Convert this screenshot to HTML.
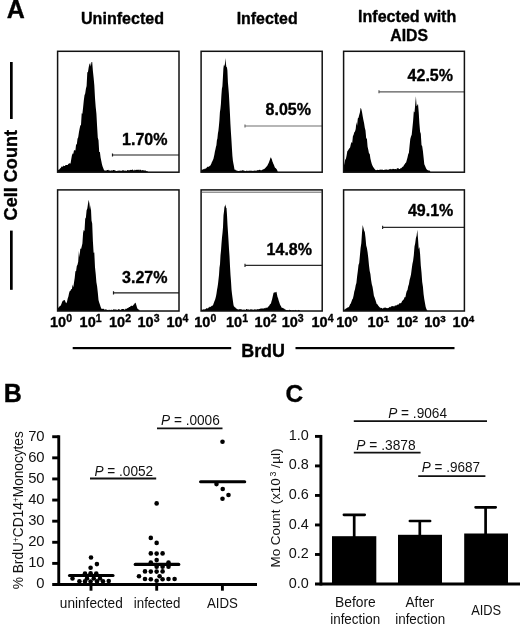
<!DOCTYPE html>
<html lang="en"><head><meta charset="utf-8"><title>Figure</title>
<style>
html,body{margin:0;padding:0;background:#fff;}
body{width:520px;height:624px;overflow:hidden;font-family:"Liberation Sans",sans-serif;}
svg{display:block;filter:blur(0.3px);}
</style></head><body>
<svg width="520" height="624" viewBox="0 0 520 624">
<rect width="520" height="624" fill="#fff"/>
<g font-family="'Liberation Sans', sans-serif" font-weight="bold" fill="#000" stroke="#000" stroke-width="0.35" stroke-linejoin="round">
<text x="6.8" y="17.8" font-size="25">A</text>
<text x="81" y="24" font-size="16" textLength="83" lengthAdjust="spacingAndGlyphs">Uninfected</text>
<text x="236.7" y="24" font-size="16" textLength="61" lengthAdjust="spacingAndGlyphs">Infected</text>
<text x="358" y="22.4" font-size="16" textLength="98.3" lengthAdjust="spacingAndGlyphs">Infected with</text>
<text x="390.3" y="40.7" font-size="16" textLength="37.7" lengthAdjust="spacingAndGlyphs">AIDS</text>
<text transform="translate(17.2,220.4) rotate(-90)" font-size="18" textLength="90.4" lengthAdjust="spacingAndGlyphs">Cell Count</text>
<text x="241.2" y="357" font-size="18" textLength="43.8" lengthAdjust="spacingAndGlyphs">BrdU</text>
<text x="122.1" y="144.6" font-size="16" textLength="45.4" lengthAdjust="spacingAndGlyphs">1.70%</text>
<text x="265.6" y="114.6" font-size="16" textLength="45.4" lengthAdjust="spacingAndGlyphs">8.05%</text>
<text x="407.6" y="80.6" font-size="16" textLength="45.4" lengthAdjust="spacingAndGlyphs">42.5%</text>
<text x="122.1" y="283.1" font-size="16" textLength="45.4" lengthAdjust="spacingAndGlyphs">3.27%</text>
<text x="266.6" y="254.6" font-size="16" textLength="45.4" lengthAdjust="spacingAndGlyphs">14.8%</text>
<text x="407.90000000000003" y="216.4" font-size="16" textLength="45.4" lengthAdjust="spacingAndGlyphs">49.1%</text>
<text x="50.0" y="326.6" font-size="14.5">10<tspan dy="-4.6" font-size="10.5">0</tspan></text><text x="79.6" y="326.6" font-size="14.5">10<tspan dy="-4.6" font-size="10.5">1</tspan></text><text x="109.0" y="326.6" font-size="14.5">10<tspan dy="-4.6" font-size="10.5">2</tspan></text><text x="137.5" y="326.6" font-size="14.5">10<tspan dy="-4.6" font-size="10.5">3</tspan></text><text x="166.4" y="326.6" font-size="14.5">10<tspan dy="-4.6" font-size="10.5">4</tspan></text>
<text x="194.3" y="326.6" font-size="14.5">10<tspan dy="-4.6" font-size="10.5">0</tspan></text><text x="226.0" y="326.6" font-size="14.5">10<tspan dy="-4.6" font-size="10.5">1</tspan></text><text x="254.6" y="326.6" font-size="14.5">10<tspan dy="-4.6" font-size="10.5">2</tspan></text><text x="281.7" y="326.6" font-size="14.5">10<tspan dy="-4.6" font-size="10.5">3</tspan></text><text x="311.5" y="326.6" font-size="14.5">10<tspan dy="-4.6" font-size="10.5">4</tspan></text>
<text x="336.2" y="326.6" font-size="14.5">10<tspan dy="-4.6" font-size="9.8">0</tspan></text><text x="367.6" y="326.6" font-size="14.5">10<tspan dy="-4.6" font-size="9.8">1</tspan></text><text x="396.4" y="326.6" font-size="14.5">10<tspan dy="-4.6" font-size="9.8">2</tspan></text><text x="424.2" y="326.6" font-size="14.5">10<tspan dy="-4.6" font-size="9.8">3</tspan></text><text x="452.6" y="326.6" font-size="14.5">10<tspan dy="-4.6" font-size="9.8">4</tspan></text>
</g>
<g fill="#000">
<rect x="10" y="62" width="2.7" height="57"/>
<rect x="10" y="230.6" width="2.7" height="59.2"/>
<rect x="72.7" y="347" width="158.5" height="2.2"/>
<rect x="295.5" y="347" width="159" height="2.2"/>
</g>
<path d="M57.9,172.0 L57.9,169.9 L58.6,169.7 L59.3,169.5 L60.0,168.5 L60.7,168.0 L61.4,166.8 L62.1,166.3 L62.8,166.9 L63.5,165.6 L64.2,166.1 L64.9,166.0 L65.6,165.1 L66.3,165.1 L67.0,164.9 L67.7,164.9 L68.4,163.7 L69.1,163.8 L69.8,163.1 L70.5,163.8 L71.2,159.6 L71.9,155.6 L72.6,153.4 L73.3,153.7 L74.0,150.2 L74.7,150.2 L75.4,150.4 L76.1,144.2 L76.8,144.5 L77.5,138.8 L78.2,137.2 L78.9,132.6 L79.6,128.8 L80.3,125.4 L81.0,125.0 L81.7,113.2 L82.4,113.7 L83.1,107.4 L83.8,100.5 L84.5,95.3 L85.2,93.6 L85.9,88.7 L86.6,86.1 L87.3,72.4 L88.0,71.8 L88.7,67.3 L89.4,64.2 L90.1,63.0 L90.8,66.4 L91.5,61.9 L92.2,62.0 L92.9,71.0 L93.6,77.4 L94.3,85.1 L95.0,98.1 L95.7,106.9 L96.4,113.6 L97.1,126.2 L97.8,137.8 L98.5,140.2 L99.2,151.9 L99.9,151.9 L100.6,157.6 L101.3,160.9 L102.0,164.6 L102.7,166.8 L103.4,168.5 L104.1,170.3 L104.8,170.6 L105.5,170.6 L106.2,170.8 L106.9,170.0 L107.6,170.1 L108.3,169.8 L109.0,170.7 L109.7,170.3 L110.4,170.9 L111.1,170.0 L111.8,170.7 L112.5,170.6 L113.2,170.1 L113.9,170.0 L114.6,170.2 L115.3,170.6 L116.0,171.0 L116.7,171.0 L117.4,170.9 L118.1,170.3 L118.8,171.1 L119.5,170.5 L120.2,170.6 L120.9,170.9 L121.6,170.7 L122.3,170.4 L123.0,170.1 L123.7,170.4 L124.4,170.7 L125.1,170.4 L125.8,170.8 L126.5,170.9 L127.2,170.0 L127.9,170.2 L128.6,170.2 L129.3,170.5 L130.0,169.7 L130.7,169.9 L131.4,170.0 L132.1,169.7 L132.8,169.6 L133.5,170.5 L134.2,170.5 L134.9,169.6 L135.6,170.3 L136.3,169.9 L137.0,169.5 L137.7,170.1 L138.4,169.6 L139.1,170.4 L139.8,169.5 L140.5,169.8 L141.2,170.3 L141.9,170.4 L142.6,170.0 L143.3,170.3 L144.0,170.5 L144.7,170.5 L145.4,170.3 L146.1,171.2 L146.8,171.0 L147.5,171.2 L148.0,172.0 Z" fill="#000"/>
<path d="M200.9,172.0 L200.9,170.7 L201.4,169.7 L201.9,169.7 L202.4,170.0 L202.9,169.1 L203.4,169.1 L203.9,169.5 L204.4,169.0 L204.9,168.6 L205.4,168.9 L205.9,168.1 L206.4,168.2 L206.9,167.3 L207.4,166.9 L207.9,166.4 L208.4,167.0 L208.9,166.5 L209.4,166.3 L209.9,165.8 L210.4,165.5 L210.9,164.5 L211.4,163.5 L211.9,162.1 L212.4,161.2 L212.9,160.1 L213.4,159.1 L213.9,156.7 L214.4,154.4 L214.9,151.6 L215.4,149.5 L215.9,147.1 L216.4,145.2 L216.9,140.3 L217.4,138.5 L217.9,133.5 L218.4,130.7 L218.9,126.1 L219.4,120.5 L219.9,112.3 L220.4,109.0 L220.9,104.0 L221.4,95.2 L221.9,88.8 L222.4,86.3 L222.9,77.4 L223.4,68.3 L223.9,64.9 L224.4,66.0 L224.9,64.1 L225.4,58.0 L225.9,63.6 L226.4,67.2 L226.9,67.0 L227.4,70.5 L227.9,82.2 L228.4,88.0 L228.9,94.2 L229.4,103.4 L229.9,112.8 L230.4,123.4 L230.9,132.1 L231.4,139.4 L231.9,148.0 L232.4,155.7 L232.9,160.7 L233.4,163.4 L233.9,166.1 L234.4,169.1 L234.9,169.9 L235.4,169.4 L235.9,170.6 L236.4,170.6 L236.9,170.5 L237.4,170.8 L237.9,170.9 L238.4,171.1 L238.9,171.1 L239.4,170.8 L239.9,171.1 L240.4,170.5 L240.9,170.7 L241.4,170.8 L241.9,170.4 L242.4,170.3 L242.9,170.2 L243.4,170.6 L243.9,170.4 L244.4,170.8 L244.9,171.1 L245.4,171.0 L245.9,171.2 L246.4,170.7 L246.9,170.5 L247.4,171.2 L247.9,170.6 L248.4,171.3 L248.9,170.5 L249.4,170.8 L249.9,170.8 L250.4,170.4 L250.9,171.0 L251.4,171.0 L251.9,170.2 L252.4,171.1 L252.9,171.0 L253.4,171.1 L253.9,170.4 L254.4,170.8 L254.9,170.6 L255.4,170.5 L255.9,170.9 L256.4,170.7 L256.9,170.2 L257.4,170.1 L257.9,170.4 L258.4,169.9 L258.9,170.3 L259.4,169.8 L259.9,169.8 L260.4,170.1 L260.9,170.5 L261.4,170.0 L261.9,170.5 L262.4,169.2 L262.9,169.9 L263.4,168.9 L263.9,169.2 L264.4,168.8 L264.9,168.5 L265.4,167.7 L265.9,167.4 L266.4,166.6 L266.9,166.6 L267.4,165.4 L267.9,164.4 L268.4,163.5 L268.9,162.5 L269.4,160.9 L269.9,159.7 L270.4,158.1 L270.9,157.2 L271.4,158.5 L271.9,159.4 L272.4,161.4 L272.9,162.5 L273.4,164.0 L273.9,164.8 L274.4,166.2 L274.9,167.5 L275.4,167.9 L275.9,168.2 L276.4,168.9 L276.9,169.5 L277.4,170.7 L277.8,172.0 Z" fill="#000"/>
<path d="M343.8,172.0 L343.8,166.1 L344.5,163.2 L345.2,159.7 L345.9,158.7 L346.6,155.4 L347.3,151.3 L348.0,150.4 L348.7,149.2 L349.4,148.3 L350.1,147.4 L350.8,144.3 L351.5,142.0 L352.2,143.0 L352.9,136.3 L353.6,134.7 L354.3,132.2 L355.0,131.6 L355.7,128.9 L356.4,122.0 L357.1,125.8 L357.8,118.6 L358.5,117.8 L359.2,115.0 L359.9,112.5 L360.6,107.7 L361.3,109.1 L362.0,112.1 L362.7,116.3 L363.4,119.9 L364.1,123.2 L364.8,127.8 L365.5,130.6 L366.2,138.5 L366.9,138.5 L367.6,146.7 L368.3,149.7 L369.0,153.6 L369.7,153.8 L370.4,158.4 L371.1,161.5 L371.8,164.1 L372.5,165.7 L373.2,167.1 L373.9,167.9 L374.6,169.0 L375.3,169.8 L376.0,170.2 L376.7,169.9 L377.4,169.8 L378.1,170.0 L378.8,170.1 L379.5,169.8 L380.2,169.7 L380.9,169.6 L381.6,169.8 L382.3,169.5 L383.0,170.1 L383.7,169.9 L384.4,169.8 L385.1,169.7 L385.8,169.6 L386.5,169.4 L387.2,169.7 L387.9,169.7 L388.6,169.8 L389.3,168.9 L390.0,169.6 L390.7,168.8 L391.4,169.6 L392.1,168.8 L392.8,169.3 L393.5,168.7 L394.2,169.2 L394.9,169.1 L395.6,169.0 L396.3,169.4 L397.0,168.2 L397.7,168.3 L398.4,168.3 L399.1,168.9 L399.8,169.1 L400.5,168.2 L401.2,168.3 L401.9,167.5 L402.6,166.7 L403.3,166.5 L404.0,165.0 L404.7,164.3 L405.4,163.0 L406.1,162.6 L406.8,160.0 L407.5,157.5 L408.2,154.3 L408.9,152.8 L409.6,145.6 L410.3,139.1 L411.0,136.5 L411.7,134.7 L412.4,127.9 L413.1,120.9 L413.8,111.3 L414.5,112.4 L415.2,104.8 L415.9,96.2 L416.6,106.2 L417.3,105.3 L418.0,103.7 L418.7,111.9 L419.4,123.6 L420.1,131.8 L420.8,133.7 L421.5,144.9 L422.2,146.3 L422.9,150.9 L423.6,157.6 L424.3,164.2 L425.0,165.8 L425.7,167.4 L426.4,168.9 L427.1,169.8 L427.8,170.2 L428.5,170.6 L429.2,170.4 L429.9,170.7 L430.4,172.0 Z" fill="#000"/>
<path d="M57.9,311.0 L57.9,308.3 L58.6,307.6 L59.3,306.5 L60.0,306.2 L60.7,305.5 L61.4,304.0 L62.1,302.0 L62.8,300.8 L63.5,300.4 L64.2,300.0 L64.9,300.3 L65.6,302.2 L66.3,303.3 L67.0,301.8 L67.7,298.4 L68.4,296.5 L69.1,293.0 L69.8,291.1 L70.5,290.8 L71.2,289.1 L71.9,289.3 L72.6,284.4 L73.3,287.2 L74.0,282.6 L74.7,278.0 L75.4,271.2 L76.1,271.0 L76.8,266.1 L77.5,264.8 L78.2,261.8 L78.9,250.9 L79.6,257.2 L80.3,248.3 L81.0,249.3 L81.7,246.5 L82.4,243.6 L83.1,232.7 L83.8,229.8 L84.5,231.3 L85.2,218.8 L85.9,217.5 L86.6,210.2 L87.3,208.5 L88.0,203.7 L88.7,199.7 L89.4,203.4 L90.1,209.9 L90.8,205.1 L91.5,220.4 L92.2,223.4 L92.9,241.2 L93.6,252.7 L94.3,252.5 L95.0,267.2 L95.7,273.8 L96.4,282.3 L97.1,286.2 L97.8,292.6 L98.5,299.9 L99.2,302.5 L99.9,304.4 L100.6,306.7 L101.3,308.5 L102.0,308.9 L102.7,308.7 L103.4,308.7 L104.1,309.1 L104.8,310.0 L105.5,309.3 L106.2,309.4 L106.9,309.7 L107.6,310.0 L108.3,310.2 L109.0,309.5 L109.7,310.1 L110.4,310.2 L111.1,309.6 L111.8,309.9 L112.5,310.2 L113.2,309.3 L113.9,309.5 L114.6,309.4 L115.3,309.3 L116.0,310.1 L116.7,309.5 L117.4,309.9 L118.1,309.5 L118.8,309.1 L119.5,309.6 L120.2,309.8 L120.9,309.9 L121.6,309.0 L122.3,309.0 L123.0,309.0 L123.7,309.0 L124.4,309.7 L125.1,309.4 L125.8,308.6 L126.5,308.9 L127.2,308.0 L127.9,308.2 L128.6,307.5 L129.3,306.9 L130.0,306.9 L130.7,305.9 L131.4,305.7 L132.1,305.8 L132.8,305.9 L133.5,304.7 L134.2,304.3 L134.9,302.9 L135.6,302.8 L136.3,304.9 L137.0,307.6 L137.7,308.9 L138.4,309.5 L139.1,309.5 L139.6,311.0 Z" fill="#000"/>
<path d="M201.0,311.0 L201.0,309.8 L201.5,309.5 L202.0,309.3 L202.5,310.1 L203.0,309.4 L203.5,309.6 L204.0,308.9 L204.5,309.4 L205.0,309.4 L205.5,309.0 L206.0,308.8 L206.5,308.2 L207.0,308.1 L207.5,308.4 L208.0,308.4 L208.5,307.6 L209.0,307.6 L209.5,307.1 L210.0,306.6 L210.5,307.0 L211.0,306.7 L211.5,305.8 L212.0,306.1 L212.5,305.6 L213.0,305.3 L213.5,303.7 L214.0,302.6 L214.5,301.1 L215.0,300.1 L215.5,298.2 L216.0,296.3 L216.5,293.4 L217.0,289.9 L217.5,287.3 L218.0,284.1 L218.5,279.4 L219.0,275.1 L219.5,267.4 L220.0,264.3 L220.5,255.2 L221.0,250.6 L221.5,243.4 L222.0,237.5 L222.5,233.0 L223.0,227.3 L223.5,215.3 L224.0,211.5 L224.5,206.5 L225.0,206.3 L225.5,204.2 L226.0,207.8 L226.5,208.1 L227.0,215.1 L227.5,225.1 L228.0,232.4 L228.5,240.6 L229.0,249.1 L229.5,256.0 L230.0,266.3 L230.5,275.0 L231.0,281.2 L231.5,289.4 L232.0,294.0 L232.5,297.7 L233.0,301.4 L233.5,304.9 L234.0,306.5 L234.5,306.7 L235.0,307.6 L235.5,307.4 L236.0,308.4 L236.5,308.4 L237.0,308.9 L237.5,308.9 L238.0,309.7 L238.5,309.4 L239.0,309.1 L239.5,309.3 L240.0,309.2 L240.5,309.1 L241.0,309.4 L241.5,309.2 L242.0,309.4 L242.5,309.8 L243.0,309.7 L243.5,309.5 L244.0,309.7 L244.5,309.5 L245.0,309.8 L245.5,309.9 L246.0,309.3 L246.5,308.9 L247.0,309.0 L247.5,309.8 L248.0,308.9 L248.5,309.5 L249.0,309.8 L249.5,309.8 L250.0,309.5 L250.5,309.6 L251.0,308.9 L251.5,309.6 L252.0,309.5 L252.5,309.4 L253.0,309.8 L253.5,309.6 L254.0,309.9 L254.5,308.9 L255.0,309.6 L255.5,309.6 L256.0,309.2 L256.5,309.8 L257.0,309.3 L257.5,309.3 L258.0,309.1 L258.5,309.6 L259.0,308.8 L259.5,308.9 L260.0,308.9 L260.5,308.6 L261.0,308.5 L261.5,308.5 L262.0,308.6 L262.5,308.4 L263.0,308.6 L263.5,308.7 L264.0,308.1 L264.5,308.0 L265.0,308.8 L265.5,307.7 L266.0,307.8 L266.5,307.6 L267.0,308.2 L267.5,307.4 L268.0,306.7 L268.5,306.4 L269.0,306.1 L269.5,305.2 L270.0,304.3 L270.5,304.0 L271.0,303.3 L271.5,301.3 L272.0,299.7 L272.5,297.6 L273.0,295.2 L273.5,293.0 L274.0,292.5 L274.5,292.5 L275.0,292.2 L275.5,292.5 L276.0,291.7 L276.5,292.0 L277.0,294.6 L277.5,296.9 L278.0,298.1 L278.5,300.0 L279.0,301.6 L279.5,303.1 L280.0,304.6 L280.5,305.4 L281.0,306.2 L281.5,307.6 L282.0,307.8 L282.5,308.0 L283.0,307.8 L283.5,308.5 L284.0,308.6 L284.5,309.1 L285.0,309.6 L285.5,309.6 L286.0,310.0 L286.5,310.1 L287.0,310.4 L287.5,310.1 L288.0,310.3 L288.5,310.3 L289.0,310.6 L289.5,309.6 L290.0,310.1 L290.5,309.9 L291.0,309.9 L291.5,310.7 L292.0,310.3 L292.5,310.4 L293.0,309.9 L293.5,310.5 L294.0,310.0 L294.5,310.8 L295.0,310.3 L295.5,309.7 L296.0,310.7 L296.5,310.3 L297.0,310.6 L297.5,310.8 L298.0,310.5 L298.5,309.8 L299.0,310.5 L299.5,310.6 L300.0,309.9 L300.0,311.0 Z" fill="#000"/>
<path d="M343.8,311.0 L343.8,310.0 L344.5,309.4 L345.2,309.3 L345.9,308.4 L346.6,308.3 L347.3,307.8 L348.0,307.2 L348.7,307.3 L349.4,306.1 L350.1,304.2 L350.8,303.4 L351.5,301.5 L352.2,299.6 L352.9,298.5 L353.6,295.5 L354.3,291.6 L355.0,289.3 L355.7,285.2 L356.4,283.1 L357.1,276.4 L357.8,271.3 L358.5,265.0 L359.2,262.9 L359.9,255.4 L360.6,248.1 L361.3,243.3 L362.0,232.7 L362.7,225.1 L363.4,227.7 L364.1,230.5 L364.8,232.1 L365.5,237.8 L366.2,245.4 L366.9,248.0 L367.6,252.2 L368.3,258.1 L369.0,265.4 L369.7,271.0 L370.4,274.0 L371.1,279.9 L371.8,284.2 L372.5,286.7 L373.2,291.1 L373.9,295.7 L374.6,297.6 L375.3,299.5 L376.0,301.8 L376.7,304.0 L377.4,304.3 L378.1,305.6 L378.8,306.2 L379.5,307.2 L380.2,307.4 L380.9,308.3 L381.6,307.8 L382.3,308.6 L383.0,308.6 L383.7,307.8 L384.4,307.7 L385.1,307.6 L385.8,307.8 L386.5,308.0 L387.2,308.2 L387.9,308.0 L388.6,307.9 L389.3,306.8 L390.0,307.5 L390.7,306.8 L391.4,306.3 L392.1,306.2 L392.8,305.9 L393.5,306.2 L394.2,306.4 L394.9,305.6 L395.6,305.6 L396.3,305.4 L397.0,304.9 L397.7,304.4 L398.4,304.8 L399.1,303.4 L399.8,303.3 L400.5,303.3 L401.2,303.1 L401.9,301.5 L402.6,300.4 L403.3,300.0 L404.0,298.8 L404.7,297.1 L405.4,297.3 L406.1,293.4 L406.8,291.1 L407.5,290.0 L408.2,286.3 L408.9,284.3 L409.6,279.9 L410.3,277.5 L411.0,274.5 L411.7,268.9 L412.4,264.1 L413.1,260.7 L413.8,255.2 L414.5,246.5 L415.2,243.2 L415.9,237.9 L416.6,235.7 L417.3,229.7 L418.0,238.4 L418.7,249.0 L419.4,247.0 L420.1,253.9 L420.8,265.5 L421.5,272.4 L422.2,282.1 L422.9,286.6 L423.6,294.2 L424.3,299.2 L425.0,303.2 L425.7,307.1 L426.4,309.0 L427.1,310.3 L427.5,311.0 Z" fill="#000"/>
<path d="M112.5,155.0 H179.0 M112.5,153.4 V156.6" stroke="#1a1a1a" stroke-width="1.2" fill="none"/>
<path d="M245.0,126.0 H322.2 M245.0,124.4 V127.6" stroke="#6e6e6e" stroke-width="1.2" fill="none"/>
<path d="M379.0,91.8 H464.4 M379.0,90.2 V93.3" stroke="#5a5a5a" stroke-width="1.2" fill="none"/>
<path d="M113.5,292.8 H179.0 M113.5,291.2 V294.4" stroke="#1a1a1a" stroke-width="1.2" fill="none"/>
<path d="M245.0,265.4 H322.2 M245.0,263.8 V267.0" stroke="#2a2a2a" stroke-width="1.2" fill="none"/>
<path d="M382.6,227.3 H464.4 M382.6,225.7 V228.9" stroke="#2a2a2a" stroke-width="1.2" fill="none"/>
<rect x="57.60" y="51.30" width="121.40" height="120.90" fill="none" stroke="#111" stroke-width="1.5"/>
<rect x="201.10" y="51.30" width="121.10" height="120.90" fill="none" stroke="#111" stroke-width="1.5"/>
<rect x="343.60" y="51.30" width="120.80" height="120.90" fill="none" stroke="#111" stroke-width="1.5"/>
<rect x="57.60" y="189.90" width="121.40" height="121.10" fill="none" stroke="#111" stroke-width="1.5"/>
<rect x="201.10" y="189.90" width="121.10" height="121.10" fill="none" stroke="#111" stroke-width="1.5"/>
<rect x="343.60" y="189.90" width="120.80" height="121.10" fill="none" stroke="#111" stroke-width="1.5"/>
<path d="M201.5,192.2 H321.8" stroke="#555" stroke-width="0.9" fill="none"/>
<g font-family="'Liberation Sans', sans-serif" fill="#111">
<text x="3.7" y="401.5" font-size="25" font-weight="bold" fill="#000" stroke="#000" stroke-width="0.35">B</text>
<text x="285.6" y="402.0" font-size="24.5" font-weight="bold" fill="#000" stroke="#000" stroke-width="0.35">C</text>
<text x="44.6" y="588.4" font-size="14.8" text-anchor="end">0</text>
<text x="44.6" y="567.3" font-size="14.8" text-anchor="end">10</text>
<text x="44.6" y="546.2" font-size="14.8" text-anchor="end">20</text>
<text x="44.6" y="525.1" font-size="14.8" text-anchor="end">30</text>
<text x="44.6" y="504.0" font-size="14.8" text-anchor="end">40</text>
<text x="44.6" y="482.8" font-size="14.8" text-anchor="end">50</text>
<text x="44.6" y="461.7" font-size="14.8" text-anchor="end">60</text>
<text x="44.6" y="440.6" font-size="14.8" text-anchor="end">70</text>
<text transform="translate(23.1,589.2) rotate(-90)" font-size="14.3" textLength="158" lengthAdjust="spacingAndGlyphs">% BrdU<tspan dy="-4.5" font-size="9">+</tspan><tspan dy="4.5">CD14</tspan><tspan dy="-4.5" font-size="9">+</tspan><tspan dy="4.5">Monocytes</tspan></text>
<text x="59.8" y="607.6" font-size="14.2" textLength="63" lengthAdjust="spacingAndGlyphs">uninfected</text>
<text x="133.8" y="607.6" font-size="14.2" textLength="46.6" lengthAdjust="spacingAndGlyphs">infected</text>
<text x="206.9" y="607.6" font-size="14.2" textLength="31" lengthAdjust="spacingAndGlyphs">AIDS</text>
<text x="94.4" y="475.79999999999995" font-size="14.5" textLength="58.8" lengthAdjust="spacingAndGlyphs"><tspan font-style="italic">P</tspan> = .0052</text>
<text x="161.0" y="424.7" font-size="14.5" textLength="58.8" lengthAdjust="spacingAndGlyphs"><tspan font-style="italic">P</tspan> = .0006</text>
<text x="388.2" y="418.29999999999995" font-size="14.5" textLength="58.8" lengthAdjust="spacingAndGlyphs"><tspan font-style="italic">P</tspan> = .9064</text>
<text x="356.3" y="449.59999999999997" font-size="14.5" textLength="59.3" lengthAdjust="spacingAndGlyphs"><tspan font-style="italic">P</tspan> = .3878</text>
<text x="421.7" y="472.0" font-size="14.5" textLength="58.3" lengthAdjust="spacingAndGlyphs"><tspan font-style="italic">P</tspan> = .9687</text>
<text x="308.8" y="587.5" font-size="14.4" text-anchor="end">0.0</text>
<text x="308.8" y="558.0" font-size="14.4" text-anchor="end">0.2</text>
<text x="308.8" y="528.5" font-size="14.4" text-anchor="end">0.4</text>
<text x="308.8" y="498.9" font-size="14.4" text-anchor="end">0.6</text>
<text x="308.8" y="469.4" font-size="14.4" text-anchor="end">0.8</text>
<text x="308.8" y="439.9" font-size="14.4" text-anchor="end">1.0</text>
<text transform="translate(280.1,567.5) rotate(-90)" font-size="13.5" textLength="58.0" lengthAdjust="spacingAndGlyphs">Mo Count</text>
<text transform="translate(280.1,504.3) rotate(-90)" font-size="13.5" textLength="26" lengthAdjust="spacingAndGlyphs">(x10</text>
<text transform="translate(275.6,476.6) rotate(-90)" font-size="8.8">3</text>
<text transform="translate(280.1,467.9) rotate(-90)" font-size="13.5" textLength="19.6" lengthAdjust="spacingAndGlyphs">/µl)</text>
<text x="335" y="607.4" font-size="14.2" textLength="40.8" lengthAdjust="spacingAndGlyphs">Before</text>
<text x="330.2" y="624.3" font-size="14.2" textLength="50" lengthAdjust="spacingAndGlyphs">infection</text>
<text x="405.6" y="607.4" font-size="14.2" textLength="28.6" lengthAdjust="spacingAndGlyphs">After</text>
<text x="395.2" y="624.3" font-size="14.2" textLength="50" lengthAdjust="spacingAndGlyphs">infection</text>
<text x="471.2" y="615.4" font-size="14.2" textLength="30" lengthAdjust="spacingAndGlyphs">AIDS</text>
</g>
<g stroke="#111" stroke-width="1.8" fill="none">
<path d="M90,478.5 H156.2"/>
<path d="M157,428.3 H222.5"/>
<path d="M353.8,421.1 H487"/>
<path d="M353.8,452.6 H420.6"/>
<path d="M418.2,476.1 H485.4"/>
</g>
<g stroke="#000" stroke-width="2.9" fill="none">
<path d="M58.75,435.28 V585.9"/>
<path d="M52.2,584.5 H257"/>
<path d="M52.2,563.39 H58.75"/>
<path d="M52.2,542.28 H58.75"/>
<path d="M52.2,521.17 H58.75"/>
<path d="M52.2,500.06 H58.75"/>
<path d="M52.2,478.95 H58.75"/>
<path d="M52.2,457.84 H58.75"/>
<path d="M52.2,436.73 H58.75"/>
<path d="M91.0,584.5 V590.7"/>
<path d="M156.7,584.5 V590.7"/>
<path d="M222.4,584.5 V590.7"/>
</g>
<g stroke="#000" stroke-width="3.1" fill="none" stroke-linecap="round">
<path d="M69.5,575.5 H113"/>
<path d="M135.2,564.4 H178.8"/>
<path d="M200.6,481.75 H244.7"/>
</g>
<g fill="#000">
<circle cx="91.00" cy="557.50" r="2.3"/>
<circle cx="96.90" cy="564.10" r="2.3"/>
<circle cx="90.60" cy="567.75" r="2.3"/>
<circle cx="85.00" cy="573.50" r="2.3"/>
<circle cx="90.60" cy="573.30" r="2.3"/>
<circle cx="96.25" cy="573.50" r="2.3"/>
<circle cx="72.50" cy="578.50" r="2.3"/>
<circle cx="87.00" cy="578.50" r="2.3"/>
<circle cx="93.75" cy="578.50" r="2.3"/>
<circle cx="100.00" cy="578.50" r="2.3"/>
<circle cx="79.40" cy="581.25" r="2.3"/>
<circle cx="85.00" cy="581.40" r="2.3"/>
<circle cx="90.60" cy="581.50" r="2.3"/>
<circle cx="97.00" cy="581.40" r="2.3"/>
<circle cx="103.00" cy="581.25" r="2.3"/>
<circle cx="108.75" cy="581.00" r="2.3"/>
<circle cx="156.65" cy="503.40" r="2.3"/>
<circle cx="150.80" cy="537.90" r="2.3"/>
<circle cx="156.65" cy="542.90" r="2.3"/>
<circle cx="150.80" cy="553.40" r="2.3"/>
<circle cx="156.65" cy="553.60" r="2.3"/>
<circle cx="162.60" cy="553.40" r="2.3"/>
<circle cx="156.65" cy="560.10" r="2.3"/>
<circle cx="150.80" cy="562.60" r="2.3"/>
<circle cx="168.50" cy="562.60" r="2.3"/>
<circle cx="156.65" cy="566.65" r="2.3"/>
<circle cx="162.60" cy="566.65" r="2.3"/>
<circle cx="168.50" cy="566.65" r="2.3"/>
<circle cx="145.00" cy="571.40" r="2.3"/>
<circle cx="150.80" cy="571.60" r="2.3"/>
<circle cx="156.65" cy="571.60" r="2.3"/>
<circle cx="162.60" cy="571.40" r="2.3"/>
<circle cx="139.00" cy="576.30" r="2.3"/>
<circle cx="159.60" cy="576.30" r="2.3"/>
<circle cx="145.00" cy="579.00" r="2.3"/>
<circle cx="150.80" cy="579.20" r="2.3"/>
<circle cx="162.60" cy="579.20" r="2.3"/>
<circle cx="168.50" cy="579.00" r="2.3"/>
<circle cx="174.60" cy="579.00" r="2.3"/>
<circle cx="156.65" cy="580.75" r="2.3"/>
<circle cx="222.50" cy="441.75" r="2.3"/>
<circle cx="216.50" cy="484.10" r="2.3"/>
<circle cx="222.75" cy="489.00" r="2.3"/>
<circle cx="228.50" cy="495.00" r="2.3"/>
<circle cx="222.50" cy="498.75" r="2.3"/>
</g>
<g stroke="#000" stroke-width="2.9" fill="none">
<path d="M320.9,434.95 V585.45"/>
<path d="M315,584.0 H520"/>
<path d="M315,554.48 H320.9"/>
<path d="M315,524.96 H320.9"/>
<path d="M315,495.44 H320.9"/>
<path d="M315,465.92 H320.9"/>
<path d="M315,436.40 H320.9"/>
</g>
<g fill="#000">
<rect x="332" y="536.2" width="44.3" height="48.5"/>
<rect x="398" y="534.8" width="44" height="49.5"/>
<rect x="464.2" y="533.5" width="43.8" height="51"/>
</g>
<g stroke="#000" stroke-width="2.7" fill="none" stroke-linecap="round">
<path d="M354.2,537 V514.8 M343.9,514.8 H364.7"/>
<path d="M419.8,536 V521 M409.9,521 H430.1"/>
<path d="M485.6,535 V507.3 M475.6,507.3 H495.7"/>
</g>
</svg>
</body></html>
